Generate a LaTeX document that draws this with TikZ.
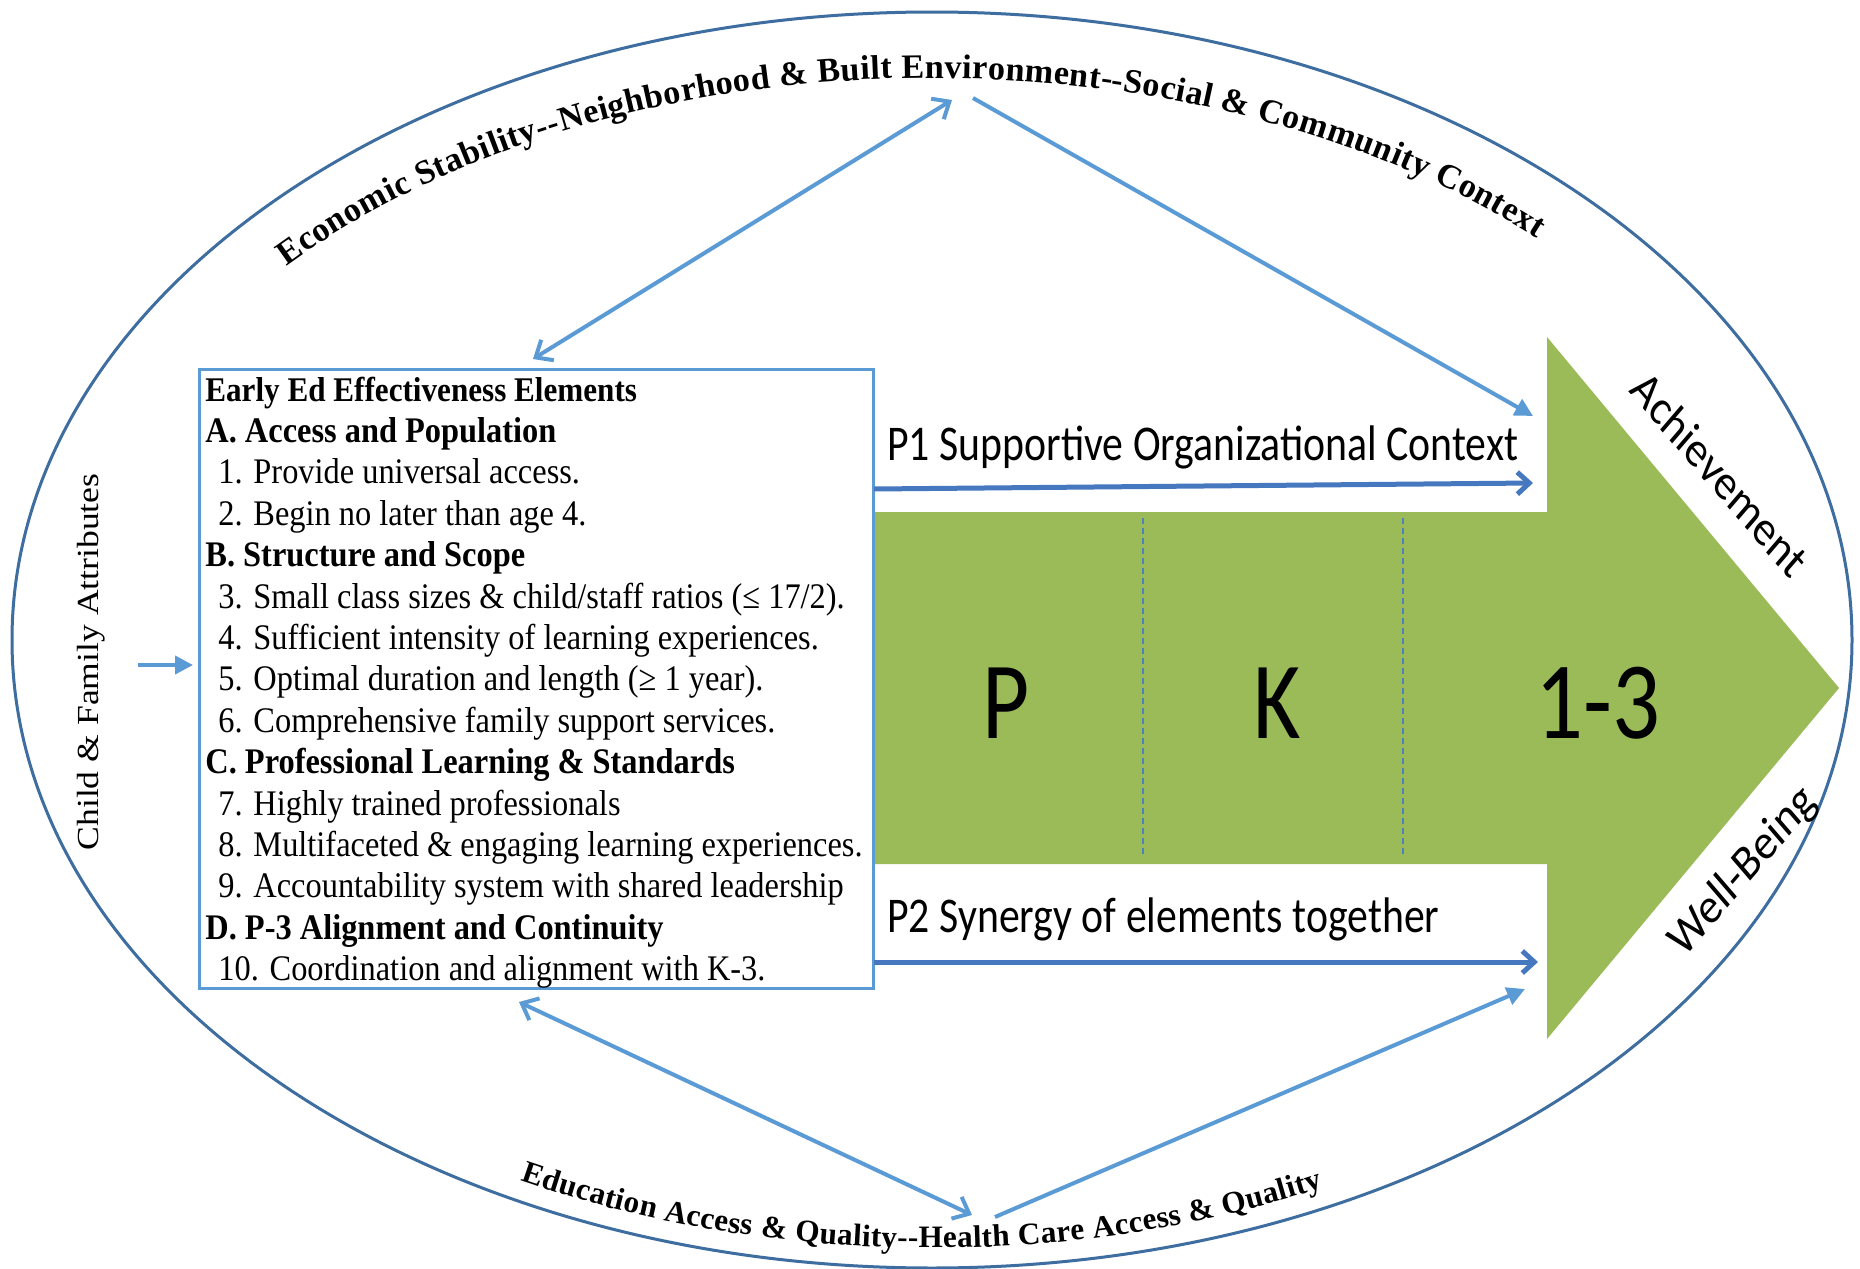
\documentclass[tikz,border=0pt]{standalone}
\usepackage{fontspec}
\setmainfont{Liberation Serif}
\newfontfamily\calibri{Carlito}
\usetikzlibrary{arrows.meta,decorations.text}
\definecolor{ellblue}{RGB}{62,109,160}
\definecolor{ltblue}{RGB}{91,155,213}
\definecolor{dkblue}{RGB}{70,120,192}
\definecolor{grn}{RGB}{155,187,89}
\definecolor{divblue}{RGB}{79,129,189}
\begin{document}
\begin{tikzpicture}[x=0.5pt,y=-0.5pt,
  lblue/.style={draw=ltblue,line width=2pt},
  barbs/.style={lblue,{Straight Barb[length=7pt,width=12pt]}-{Straight Barb[length=7pt,width=12pt]}},
  tri/.style={lblue,-{Triangle[length=9pt,width=9pt]}},
  parrow/.style={draw=dkblue,line width=2.5pt,-{Straight Barb[length=6pt,width=11pt]}},
  divider/.style={draw=divblue,line width=0.6pt,dash pattern=on 3pt off 2pt},
  plain/.style={inner sep=0pt},
]
\useasboundingbox (0,0) rectangle (1860,1269);
\fill[white] (0,0) rectangle (1860,1269);

% outer ellipse
\draw[ellblue,line width=1.5pt] (932,640) ellipse [x radius=920, y radius=628];

% green arrow
\fill[grn] (874,512) -- (1547,512) -- (1547,337) -- (1839,688) -- (1547,1039) -- (1547,864) -- (874,864) -- cycle;
\draw[divider] (1143,518) -- (1143,857);
\draw[divider] (1403,518) -- (1403,857);

% box
\node[draw=ltblue,line width=1.5pt,minimum width=337pt,minimum height=309.5pt,inner sep=0pt] (box) at (536,678.5) {};
\node[plain,anchor=base west] (elements) at (205,401) {\scalebox{0.9}[1]{\fontsize{18pt}{20.7pt}\selectfont
\begin{tabular}[t]{@{}l@{}}
{\fontsize{17.3pt}{20.7pt}\selectfont\bfseries Early Ed Effectiveness Elements}\\
\textbf{A. Access and Population}\\
\hspace*{7.2pt}1. Provide universal access.\\
\hspace*{7.2pt}2. Begin no later than age 4.\\
\textbf{B. Structure and Scope}\\
\hspace*{7.2pt}3. Small class sizes \& child/staff ratios (≤ 17/2).\\
\hspace*{7.2pt}4. Sufficient intensity of learning experiences.\\
\hspace*{7.2pt}5. Optimal duration and length (≥ 1 year).\\
\hspace*{7.2pt}6. Comprehensive family support services.\\
\textbf{C. Professional Learning \& Standards}\\
\hspace*{7.2pt}7. Highly trained professionals\\
\hspace*{7.2pt}8. Multifaceted \& engaging learning experiences.\\
\hspace*{7.2pt}9. Accountability system with shared leadership\\
\textbf{D. P-3 Alignment and Continuity}\\
\hspace*{7.2pt}10. Coordination and alignment with K-3.
\end{tabular}}};

% P / K / 1-3
\node[plain,anchor=base] (gp) at (1006,738) {\scalebox{0.83}[1]{\calibri\fontsize{55pt}{60pt}\selectfont P}};
\node[plain,anchor=base] (gk) at (1277,738) {\scalebox{0.83}[1]{\calibri\fontsize{55pt}{60pt}\selectfont K}};
\node[plain,anchor=base] (g13) at (1598,738) {\scalebox{0.86}[1]{\calibri\fontsize{55pt}{60pt}\selectfont 1-3}};

% P1 / P2 labels
\node[plain,anchor=base west] (p1) at (887,460) {\scalebox{0.835}[1]{\calibri\fontsize{25pt}{30pt}\selectfont P1 Supportive Organizational Context}};
\node[plain,anchor=base west] (p2) at (887,932) {\scalebox{0.835}[1]{\calibri\fontsize{25pt}{30pt}\selectfont P2 Synergy of elements together}};

% rotated labels (horizontally condensed like the reference)
\begin{scope}[xscale=0.86]
\node[plain,rotate=-45,transform shape] (ach) at (2000,474) {\calibri\fontsize{25pt}{30pt}\selectfont Achievement};
\node[plain,rotate=45,transform shape] (well) at (2027,872) {\calibri\fontsize{25pt}{30pt}\selectfont Well-Being};
\node[plain,rotate=90,transform shape] (child) at (106,662) {\fontsize{17.8pt}{21pt}\selectfont Child \& Family Attributes};
\end{scope}

% curved texts
\path[decorate,decoration={text along path,text align=fit to path,
  text={|\bfseries\fontsize{17.1pt}{20pt}\selectfont|Economic Stability--Neighborhood {\&} Built Environment--Social {\&} Community Context}}]
  (932,640) ++(221.7:865 and 562) arc[start angle=221.7,end angle=314.4,x radius=865,y radius=562];
\path[decorate,decoration={text along path,text align=fit to path,
  text={|\bfseries\fontsize{15.6pt}{18pt}\selectfont|Education Access {\&} Quality--Health Care Access {\&} Quality}}]
  (932,640) ++(117.2:900 and 608) arc[start angle=117.2,end angle=64.3,x radius=900,y radius=608];

% connector end points
\coordinate (tl1) at (533,359);
\coordinate (tl2) at (952,100);
\coordinate (tr1) at (973,98);
\coordinate (tr2) at (1533,416);
\coordinate (p1s) at (874,489);
\coordinate (p1e) at (1533,483);
\coordinate (p2s) at (874,962);
\coordinate (p2e) at (1538,962);
\coordinate (bl1) at (519,1002);
\coordinate (bl2) at (972,1215);
\coordinate (br1) at (995,1217);
\coordinate (br2) at (1525,989);
\coordinate (cf1) at (138,665);
\coordinate (cf2) at (193,665);

\draw[barbs] (tl1) -- (tl2);
\draw[tri] (tr1) -- (tr2);
\draw[parrow] (p1s) -- (p1e);
\draw[parrow] (p2s) -- (p2e);
\draw[barbs] (bl1) -- (bl2);
\draw[tri] (br1) -- (br2);
\draw[tri] (cf1) -- (cf2);
\end{tikzpicture}
\end{document}
